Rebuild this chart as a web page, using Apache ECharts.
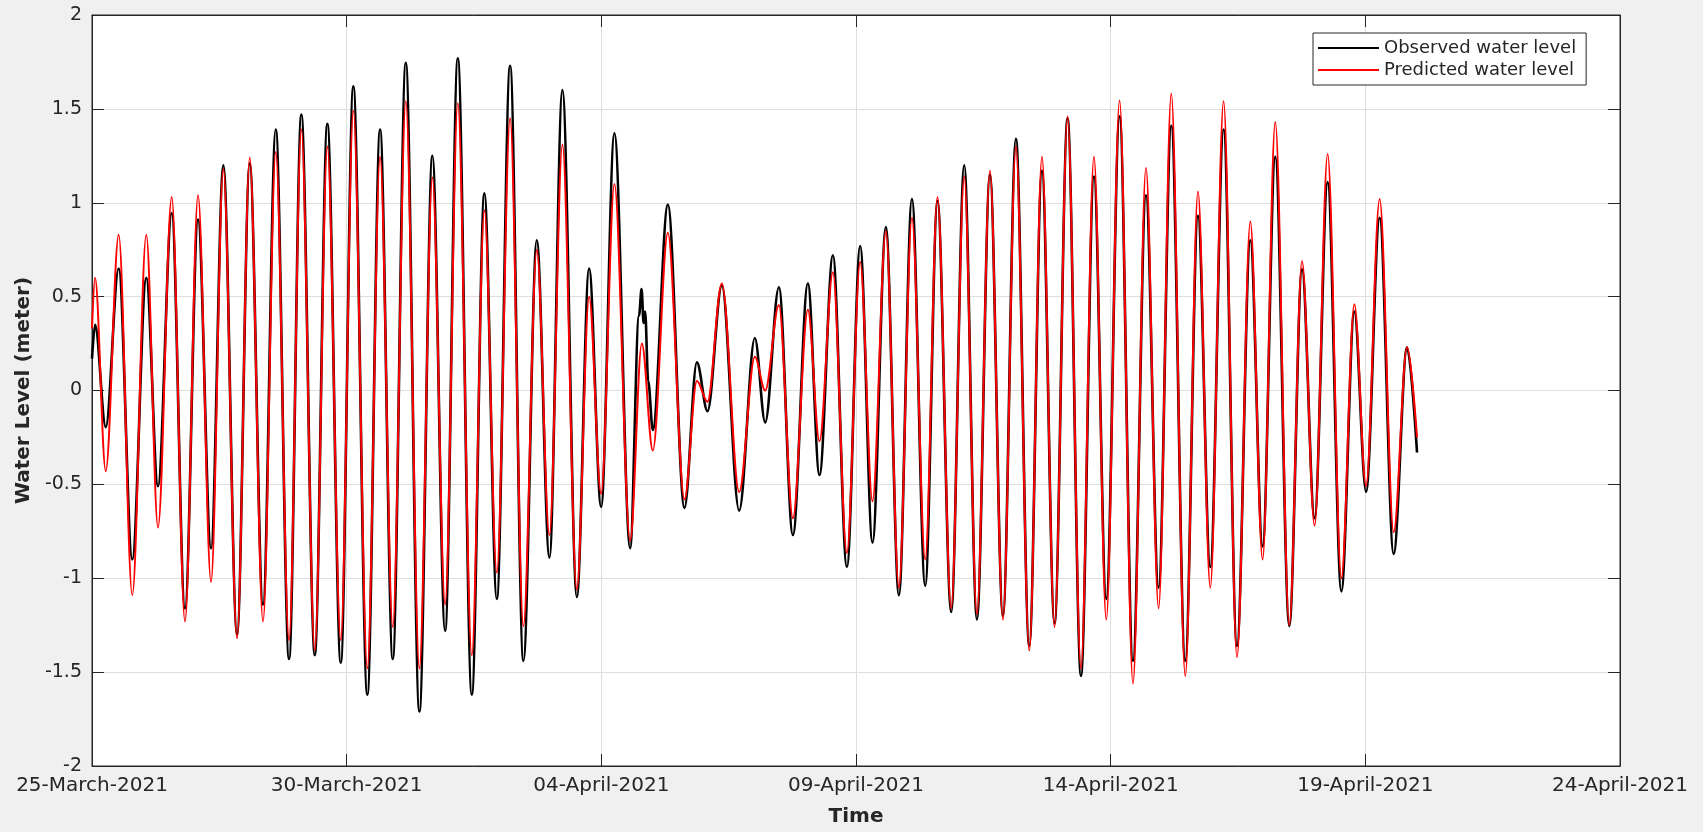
<!DOCTYPE html>
<html>
<head>
<meta charset="utf-8">
<script src="https://cdn.jsdelivr.net/npm/echarts@6/dist/echarts.min.js"></script>
<style>
html,body{margin:0;padding:0;background:#f0f0f0;}
#chart{width:1703px;height:832px;}
</style>
</head>
<body>
<div id="chart"></div>
<script>
// x values: days since 25-March-2021 00:00
const xTickLabels = ['25-March-2021','30-March-2021','04-April-2021','09-April-2021','14-April-2021','19-April-2021','24-April-2021'];

// Predicted water level (turning points)
const predTime = [0, 0.06, 0.27, 0.524, 0.791, 1.066, 1.296, 1.565, 1.826, 2.082, 2.337, 2.579, 2.848, 3.097, 3.358, 3.608, 3.869, 4.110, 4.374, 4.621, 4.884, 5.131, 5.406, 5.656, 5.905, 6.161, 6.428, 6.683, 6.933, 7.182, 7.457, 7.704, 7.948, 8.209, 8.470, 8.733, 8.981, 9.236, 9.519, 9.760, 9.996, 10.257, 10.566, 10.795, 11.011, 11.306, 11.632, 11.876, 12.084, 12.366, 12.706, 13.014, 13.217, 13.486, 13.761, 14.055, 14.283, 14.546, 14.821, 15.082, 15.324, 15.587, 15.842, 16.098, 16.359, 16.600, 16.869, 17.125, 17.374, 17.630, 17.885, 18.140, 18.402, 18.651, 18.898, 19.154, 19.417, 19.672, 19.914, 20.175, 20.438, 20.693, 20.941, 21.190, 21.465, 21.714, 21.956, 22.217, 22.480, 22.742, 22.983, 23.232, 23.507, 23.757, 24.004, 24.260, 24.529, 24.784, 25.014, 25.281, 25.556, 25.819, 26.015];
const predLevel = [0.33, 0.60, -0.43, 0.83, -1.09, 0.83, -0.73, 1.03, -1.23, 1.04, -1.02, 1.18, -1.32, 1.24, -1.23, 1.27, -1.33, 1.39, -1.385, 1.30, -1.33, 1.49, -1.48, 1.245, -1.26, 1.54, -1.48, 1.135, -1.14, 1.53, -1.41, 0.96, -0.97, 1.45, -1.255, 0.75, -0.77, 1.31, -1.06, 0.50, -0.55, 1.10, -0.80, 0.25, -0.32, 0.84, -0.58, 0.05, -0.06, 0.57, -0.54, 0.18, 0.00, 0.455, -0.68, 0.43, -0.27, 0.63, -0.865, 0.685, -0.59, 0.85, -1.05, 0.92, -0.90, 1.03, -1.16, 1.14, -1.19, 1.17, -1.22, 1.30, -1.385, 1.245, -1.26, 1.46, -1.48, 1.245, -1.22, 1.545, -1.56, 1.185, -1.16, 1.58, -1.52, 1.06, -1.05, 1.54, -1.42, 0.90, -0.90, 1.43, -1.25, 0.69, -0.72, 1.26, -1.00, 0.46, -0.51, 1.02, -0.755, 0.23, -0.25];

// Observed water level (turning points)
const obsTime = [0, 0.06, 0.27, 0.524, 0.791, 1.066, 1.296, 1.565, 1.826, 2.082, 2.337, 2.579, 2.848, 3.097, 3.358, 3.608, 3.869, 4.110, 4.374, 4.621, 4.884, 5.131, 5.406, 5.656, 5.905, 6.161, 6.428, 6.683, 6.933, 7.182, 7.457, 7.704, 7.948, 8.209, 8.470, 8.733, 8.981, 9.236, 9.519, 9.760, 9.996, 10.257, 10.566, 10.74, 10.79, 10.83, 10.86, 10.92, 11.011, 11.306, 11.632, 11.876, 12.084, 12.366, 12.706, 13.014, 13.217, 13.486, 13.761, 14.055, 14.283, 14.546, 14.821, 15.082, 15.324, 15.587, 15.842, 16.098, 16.359, 16.600, 16.869, 17.125, 17.374, 17.630, 17.885, 18.140, 18.402, 18.651, 18.898, 19.154, 19.417, 19.672, 19.914, 20.175, 20.438, 20.693, 20.941, 21.190, 21.465, 21.714, 21.956, 22.217, 22.480, 22.742, 22.983, 23.232, 23.507, 23.757, 24.004, 24.260, 24.529, 24.784, 25.014, 25.281, 25.556, 25.819, 26.015];
const obsLevel = [0.17, 0.35, -0.195, 0.65, -0.90, 0.60, -0.51, 0.945, -1.16, 0.91, -0.84, 1.20, -1.30, 1.21, -1.14, 1.39, -1.43, 1.47, -1.41, 1.42, -1.45, 1.62, -1.62, 1.39, -1.43, 1.745, -1.71, 1.25, -1.28, 1.77, -1.62, 1.05, -1.11, 1.73, -1.44, 0.80, -0.89, 1.60, -1.10, 0.65, -0.62, 1.37, -0.84, 0.40, 0.54, 0.36, 0.42, 0.05, -0.21, 0.99, -0.625, 0.15, -0.11, 0.56, -0.64, 0.28, -0.17, 0.55, -0.77, 0.57, -0.45, 0.72, -0.94, 0.77, -0.81, 0.87, -1.09, 1.02, -1.04, 1.01, -1.18, 1.20, -1.22, 1.15, -1.20, 1.34, -1.36, 1.17, -1.24, 1.45, -1.52, 1.14, -1.11, 1.46, -1.44, 1.04, -1.05, 1.41, -1.44, 0.93, -0.94, 1.39, -1.36, 0.80, -0.83, 1.245, -1.255, 0.645, -0.68, 1.11, -1.07, 0.42, -0.54, 0.92, -0.87, 0.23, -0.33];

const FONT = 'DejaVu Sans';
const INK = '#262626';
const chart = echarts.init(document.getElementById('chart'));
const zip = (xs, ys) => xs.map((x, i) => [x, ys[i]]);
const tickCommon = {show: true, inside: true, length: 12, lineStyle: {color: INK, width: 1}};
const lineCommon = {show: true, onZero: false, lineStyle: {color: INK, width: 1}};

chart.setOption({
  animation: false,
  backgroundColor: '#f0f0f0',
  textStyle: {fontFamily: FONT},
  grid: {left: 92, right: 83, top: 15, bottom: 63, show: true, backgroundColor: '#ffffff', borderColor: INK, borderWidth: 1},
  legend: {
    orient: 'vertical', left: 1313, top: 33,
    backgroundColor: '#ffffff', borderColor: INK, borderWidth: 1,
    padding: [5, 10, 5, 5], itemGap: 2,
    itemWidth: 61, itemHeight: 2, icon: 'rect',
    textStyle: {fontFamily: FONT, fontSize: 18, lineHeight: 20, color: INK},
    data: ['Observed water level', 'Predicted water level']
  },
  xAxis: [{
    type: 'value', min: 0, max: 30, interval: 5,
    name: 'Time', nameLocation: 'middle', nameGap: 41,
    nameTextStyle: {fontFamily: FONT, fontSize: 20, fontWeight: 'bold', color: INK},
    axisLine: lineCommon,
    axisTick: tickCommon,
    axisLabel: {margin: 10, fontFamily: FONT, fontSize: 20, color: INK, formatter: v => xTickLabels[Math.round(v / 5)]},
    splitLine: {show: true, lineStyle: {color: '#dedede', width: 1}}
  }, {
    type: 'value', min: 0, max: 30, interval: 5, position: 'top',
    axisLine: lineCommon,
    axisTick: tickCommon, axisLabel: {show: false}, splitLine: {show: false}
  }],
  yAxis: [{
    type: 'value', min: -2, max: 2, interval: 0.5,
    name: 'Water Level (meter)', nameLocation: 'middle', nameGap: 57,
    nameTextStyle: {fontFamily: FONT, fontSize: 20, fontWeight: 'bold', color: INK},
    axisLine: lineCommon,
    axisTick: tickCommon,
    axisLabel: {margin: 10, fontFamily: FONT, fontSize: 19, color: INK},
    splitLine: {show: true, lineStyle: {color: '#dedede', width: 1}}
  }, {
    type: 'value', min: -2, max: 2, interval: 0.5, position: 'right',
    axisLine: lineCommon,
    axisTick: tickCommon, axisLabel: {show: false}, splitLine: {show: false}
  }],
  series: [{
    name: 'Observed water level', type: 'line',
    data: zip(obsTime, obsLevel),
    showSymbol: false, symbol: 'none', smooth: 0.34, smoothMonotone: 'x',
    lineStyle: {color: '#000000', width: 2.6},
    itemStyle: {color: '#000000'}
  }, {
    name: 'Predicted water level', type: 'line',
    data: zip(predTime, predLevel),
    showSymbol: false, symbol: 'none', smooth: 0.34, smoothMonotone: 'x',
    lineStyle: {color: '#ff0000', width: 2.0},
    itemStyle: {color: '#ff0000'}
  }]
});
</script>
</body>
</html>
